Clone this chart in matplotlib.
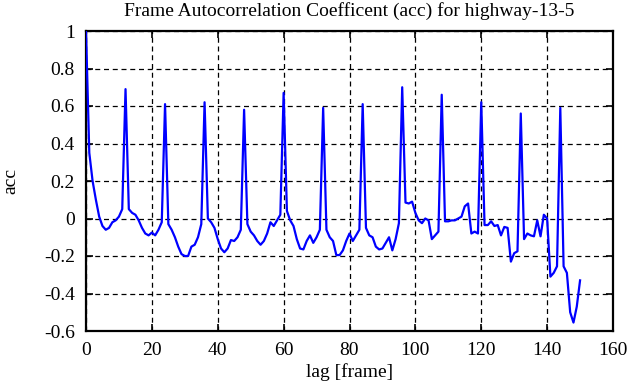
import numpy as np
import matplotlib
matplotlib.use("Agg")
import matplotlib.pyplot as plt

# Values, one per lag frame (0..150)
acc = [
    1.0, 0.35, 0.2, 0.1, 0.01, -0.04, -0.06, -0.05, -0.02, -0.01,
    0.01, 0.05, 0.69, 0.05, 0.03, 0.02, -0.01, -0.05, -0.08, -0.09,
    -0.075, -0.09, -0.06, -0.02, 0.61, -0.03, -0.06, -0.1, -0.15, -0.19,
    -0.2, -0.2, -0.15, -0.14, -0.1, -0.03, 0.62, 0.0, -0.02, -0.05,
    -0.11, -0.16, -0.18, -0.16, -0.115, -0.12, -0.1, -0.06, 0.58, -0.03,
    -0.07, -0.09, -0.12, -0.14, -0.12, -0.08, -0.02, -0.04, -0.01, 0.02,
    0.67, 0.04, -0.01, -0.04, -0.11, -0.16, -0.165, -0.12, -0.09, -0.13,
    -0.1, -0.06, 0.59, -0.06, -0.1, -0.12, -0.195, -0.195, -0.17, -0.12,
    -0.08, -0.12, -0.09, -0.06, 0.61, -0.05, -0.09, -0.1, -0.15, -0.165,
    -0.16, -0.13, -0.1, -0.17, -0.11, -0.025, 0.70, 0.085, 0.08, 0.09,
    0.03, -0.01, -0.025, 0.0, -0.01, -0.11, -0.09, -0.07, 0.66, -0.015,
    -0.015, -0.01, -0.01, 0.0, 0.01, 0.065, 0.08, -0.08, -0.07, -0.08,
    0.62, -0.035, -0.035, -0.015, -0.04, -0.035, -0.09, -0.045, -0.05, -0.23,
    -0.185, -0.175, 0.56, -0.11, -0.08, -0.09, -0.095, -0.01, -0.095, 0.02,
    0.0, -0.31, -0.29, -0.255, 0.59, -0.255, -0.29, -0.5, -0.555, -0.47,
    -0.33,
]
lag = np.arange(len(acc))

xticks = [0, 20, 40, 60, 80, 100, 120, 140, 160]
yticks = [-0.6, -0.4, -0.2, 0, 0.2, 0.4, 0.6, 0.8, 1]

plt.rcParams.update({
    "font.family": ["Liberation Serif", "DejaVu Serif"],
    "font.size": 14,
})

fig = plt.figure(figsize=(6.35, 3.87), dpi=100)
ax = fig.add_axes([86 / 635, 56 / 387, 527 / 635, 300 / 387])

ax.plot(lag, acc, color="#0000ff", linewidth=1.6, zorder=3)

ax.set_xlim(0, 160)
ax.set_ylim(-0.6, 1)
ax.set_xticks(xticks)
ax.set_xticklabels([str(t) for t in xticks])
ax.set_yticks(yticks)
ax.set_yticklabels([f"{t:g}" for t in yticks])

ax.grid(True, color="black", linestyle=(0, (4, 3)), linewidth=0.9)
ax.set_axisbelow(True)
ax.tick_params(direction="in", length=5, width=1.2, top=True, right=True,
               pad=8, labelsize=14)
for side in ax.spines.values():
    side.set_linewidth(1.6)

ax.set_title("Frame Autocorrelation Coefficent (acc) for highway-13-5",
             fontsize=14, pad=11)
ax.set_xlabel("lag [frame]", fontsize=14, labelpad=3)
ax.set_ylabel("acc", fontsize=14, labelpad=18)

fig.savefig("out.png", dpi=100)
